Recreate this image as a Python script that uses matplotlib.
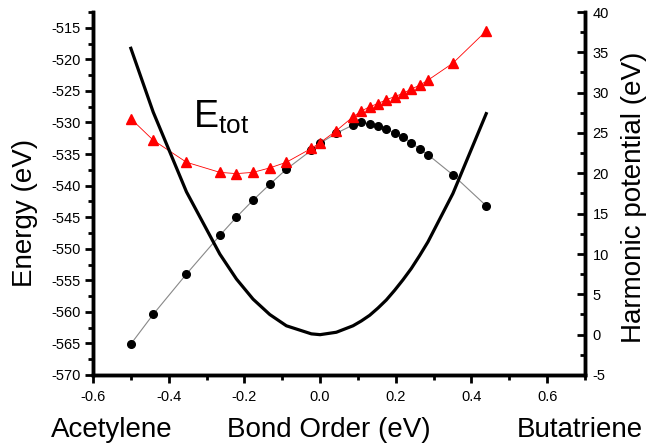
import numpy as np
import matplotlib
matplotlib.use('Agg')
import matplotlib.pyplot as plt
from matplotlib.ticker import MultipleLocator

plt.rcParams['font.family'] = ['Liberation Sans', 'DejaVu Sans']
plt.rcParams['axes.unicode_minus'] = False

# bond order values (x)
bond_order = [-0.5, -0.441, -0.353, -0.265, -0.221, -0.177, -0.133, -0.089, -0.023, 0.0,
              0.043, 0.087, 0.109, 0.131, 0.153, 0.175, 0.197, 0.219, 0.241, 0.263,
              0.285, 0.351, 0.439]

# black circles (left axis)
energy_circ = [-565.1, -560.4, -554.0, -547.9, -545.0, -542.3, -539.8, -537.4, -534.4, -533.3,
               -531.7, -530.4, -530.0, -530.2, -530.5, -531.0, -531.7, -532.3, -533.2, -534.2,
               -535.1, -538.3, -543.2]

# red triangles, E_tot (left axis)
energy_tot = [-529.4, -532.8, -536.3, -537.9, -538.1, -537.9, -537.2, -536.3, -534.1, -533.2,
              -531.3, -529.1, -528.2, -527.5, -527.0, -526.4, -525.9, -525.4, -524.7, -524.1,
              -523.3, -520.6, -515.5]

# harmonic potential (right axis)
harmonic = [35.5, 27.6, 17.7, 10.0, 6.9, 4.4, 2.5, 1.1, 0.1, 0.0,
            0.3, 1.1, 1.7, 2.4, 3.3, 4.3, 5.5, 6.8, 8.2, 9.8,
            11.5, 17.5, 27.4]

fs = 20
lw_sp = 2.5

fig = plt.figure(figsize=(6.52, 4.45), dpi=100)
ax = fig.add_axes([93/652, 1-375/445, (585-93)/652, (375-12)/445])
ax2 = ax.twinx()

ax.plot(bond_order, energy_circ, '-', color='#888888', lw=0.8, zorder=2)
ax.plot(bond_order, energy_circ, 'o', color='black', ms=5.5, zorder=3)
ax.plot(bond_order, energy_tot, '-', color='red', lw=0.6, zorder=4)
ax.plot(bond_order, energy_tot, '^', color='red', ms=6.5, zorder=5)

ax2.plot(bond_order, harmonic, '-', color='black', lw=2.3)

ax.set_xlim(-0.6, 0.7)
ax.set_ylim(-570, -512.5)
ax2.set_ylim(-5, 40)

ax.xaxis.set_minor_locator(MultipleLocator(0.1))
ax.yaxis.set_major_locator(MultipleLocator(5))
ax.yaxis.set_minor_locator(MultipleLocator(2.5))
ax2.yaxis.set_major_locator(MultipleLocator(5))
ax2.yaxis.set_minor_locator(MultipleLocator(2.5))
ax.set_xticks([-0.6, -0.4, -0.2, 0.0, 0.2, 0.4, 0.6])
ax.set_xticklabels(['-0.6', '-0.4', '-0.2', '0.0', '0.2', '0.4', '0.6'])

for a in (ax, ax2):
    a.spines['top'].set_visible(False)
    for s in ('left', 'right', 'bottom'):
        a.spines[s].set_linewidth(lw_sp)
ax.tick_params(which='major', direction='out', length=6, width=2, labelsize=10.5, pad=3)
ax.tick_params(which='minor', direction='out', length=3.5, width=2)
ax2.tick_params(which='major', direction='in', length=5.5, width=2, labelsize=10.5, pad=5.5)
ax2.tick_params(which='minor', direction='in', length=3.5, width=2)
ax.tick_params(axis='x', pad=5)

ax.text(-0.337, -530.9, r'$\mathregular{E_{tot}}$', fontsize=27, ha='left', va='baseline')

fig.text(25/652, 1-213/445, 'Energy (eV)', rotation=90, fontsize=fs, ha='center', va='center')
fig.text(634/652, 1-197/445, 'Harmonic potential (eV)', rotation=90, fontsize=fs, ha='center', va='center')
fig.text(112/652, 1-430/445, 'Acetylene', fontsize=fs, ha='center', va='center')
fig.text(329/652, 1-430/445, 'Bond Order (eV)', fontsize=fs, ha='center', va='center')
fig.text(580/652, 1-430/445, 'Butatriene', fontsize=fs, ha='center', va='center')

fig.savefig('out.png', dpi=100)
